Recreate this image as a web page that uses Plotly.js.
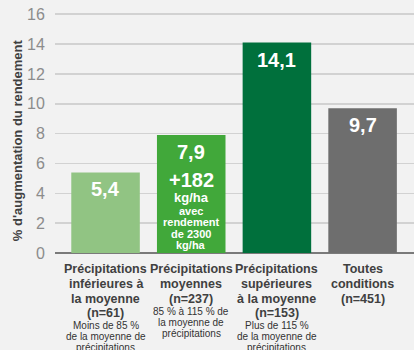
<!DOCTYPE html>
<html>
<head>
<meta charset="utf-8">
<script src="https://cdn.plot.ly/plotly-3.0.1.min.js"></script>
<style>
html,body{margin:0;padding:0;background:#f2f2f2;}
#chart{width:414px;height:350px;}
</style>
</head>
<body>
<div id="chart"></div>
<script>
// Data
const categories = ["c0", "c1", "c2", "c3"];
const values = [5.4, 7.9, 14.1, 9.7];
const valueLabels = ["5,4", "7,9", "14,1", "9,7"];
const barColors = ["#91c483", "#41a83a", "#00703c", "#6e6e6e"];
const boldLines = [
  ["Précipitations", "inférieures à", "la moyenne", "(n=61)"],
  ["Précipitations", "moyennes", "(n=237)"],
  ["Précipitations", "supérieures", "à la moyenne", "(n=153)"],
  ["Toutes", "conditions", "(n=451)"]
];
const smallLines = [
  ["Moins de 85 %", "de la moyenne de", "précipitations"],
  ["85 % à 115 % de", "la moyenne de", "précipitations"],
  ["Plus de 115 %", "de la moyenne de", "précipitations"],
  []
];
const extraLabelIndex = 1;
const extraLines = [
  {text: "+182", size: 20, off: 45},
  {text: "kg/ha", size: 13, off: 62.5},
  {text: "avec", size: 11, off: 75.5},
  {text: "rendement", size: 11, off: 87},
  {text: "de 2300", size: 11, off: 98.5},
  {text: "kg/ha", size: 11, off: 110}
];
const yTicks = [0, 2, 4, 6, 8, 10, 12, 14, 16];
const yTitle = "% d'augmentation du rendement";

const FONT = "Liberation Sans, Arial, Helvetica, sans-serif";
const xIdx = categories.map((c, i) => i);

const trace = {
  type: "bar",
  x: xIdx,
  y: values,
  width: 0.8,
  marker: {color: barColors, line: {width: 0}},
  hoverinfo: "skip"
};

const annotations = [];
// value labels
values.forEach((v, i) => {
  annotations.push({
    x: i, y: v, xref: "x", yref: "y",
    text: "<b>" + valueLabels[i] + "</b>",
    showarrow: false, yanchor: "middle", yshift: -17,
    font: {family: FONT, size: 20, color: "#ffffff"}
  });
});
extraLines.forEach(l => {
  annotations.push({
    x: extraLabelIndex, y: values[extraLabelIndex], xref: "x", yref: "y",
    text: "<b>" + l.text + "</b>",
    showarrow: false, yanchor: "middle", yshift: -l.off, borderpad: 0,
    font: {family: FONT, size: l.size, color: "#ffffff"}
  });
});
// category labels
boldLines.forEach((lines, i) => {
  let off = 0;
  lines.forEach((t, j) => {
    off = 16 + 14.8 * j;
    annotations.push({
      x: i, y: 0, xref: "x", yref: "paper",
      text: "<b>" + t + "</b>",
      showarrow: false, yanchor: "middle", yshift: -off, borderpad: 0,
      font: {family: FONT, size: 12.5, color: "#404040"}
    });
  });
  smallLines[i].forEach((t, j) => {
    annotations.push({
      x: i, y: 0, xref: "x", yref: "paper",
      text: t,
      showarrow: false, yanchor: "middle", yshift: -(off + 12.5 + 11 * j), borderpad: 0,
      font: {family: FONT, size: 10, color: "#333333"}
    });
  });
});
// y axis title
annotations.push({
  x: -0.106, y: 0.47, xref: "paper", yref: "paper",
  text: "<b>" + yTitle + "</b>", textangle: -90,
  showarrow: false, xanchor: "center", yanchor: "middle",
  font: {family: FONT, size: 13, color: "#404040"}
});

const layout = {
  width: 414, height: 350,
  margin: {l: 55, r: 0, t: 13, b: 97, pad: 0},
  paper_bgcolor: "#f2f2f2",
  plot_bgcolor: "#f2f2f2",
  showlegend: false,
  xaxis: {
    range: [-0.59, 3.6],
    showticklabels: false,
    showgrid: false, zeroline: false, showline: false, ticks: ""
  },
  yaxis: {
    range: [0, 16.08],
    tickvals: yTicks,
    ticktext: yTicks.map(String),
    tickfont: {family: FONT, size: 16, color: "#8c8c8c"},
    ticks: "outside", ticklen: 6, tickcolor: "rgba(0,0,0,0)",
    showgrid: true, gridcolor: "#d2d2d2", gridwidth: 1.5,
    zeroline: true, zerolinecolor: "#7a7a7a", zerolinewidth: 1.5,
    showline: false
  },
  annotations: annotations,
  font: {family: FONT}
};

Plotly.newPlot("chart", [trace], layout, {displayModeBar: false, staticPlot: true});
</script>
</body>
</html>
